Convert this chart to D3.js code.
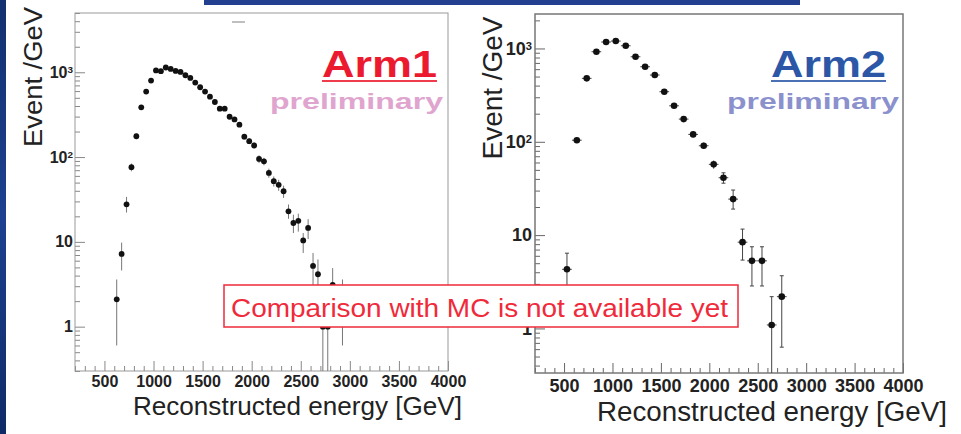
<!DOCTYPE html>
<html>
<head>
<meta charset="utf-8">
<script src="https://cdn.jsdelivr.net/npm/d3@7"></script>
<style>
  html, body { margin: 0; padding: 0; background: #fff; }
  svg { display: block; }
  text { font-family: "Liberation Sans", Arial, Helvetica, sans-serif; }
</style>
</head>
<body>
<svg id="chart" width="961" height="434"></svg>
<script>
// ---- Arm1 spectrum: bin centre [GeV], Event/GeV, error-bar low / high ----
const arm1Energy = [625, 675, 725, 775, 825, 875, 925, 975, 1025, 1075, 1125, 1175, 1225, 1275,
  1325, 1375, 1425, 1475, 1525, 1575, 1625, 1675, 1725, 1775, 1825, 1875, 1925, 1975, 2025,
  2075, 2125, 2175, 2225, 2275, 2325, 2375, 2425, 2475, 2525, 2575, 2625, 2675, 2725, 2775,
  2825, 2925];
const arm1Events = [2.1, 7.2, 27.7, 76, 176, 386, 592, 798, 1050, 1030, 1138, 1096, 1038, 1009,
  922, 857, 756, 666, 592, 516, 446, 372, 372, 299, 278, 241, 174, 154, 137,
  95, 89, 65, 52, 47, 39.5, 22.9, 16.7, 17.7, 10.4, 14.6, 5.2, 4.15, 1, 1,
  3.1, 2];
const arm1ErrLow = [0.6, 4.6, 22.2, 68, 163, 367, 568, 770, 1018, 998, 1104, 1063, 1006, 978,
  892, 828, 729, 641, 568, 494, 425, 353, 353, 282, 262, 226, 161, 142, 125,
  85, 80, 57, 45, 40, 33, 18.7, 12.7, 13.2, 7.4, 10.8, 3.1, 2.2, 0, 0,
  1.6, 0.6];
const arm1ErrHigh = [3.6, 9.8, 33.9, 84, 189, 405, 616, 826, 1082, 1062, 1172, 1129, 1070, 1040,
  952, 886, 783, 691, 616, 538, 467, 391, 391, 316, 294, 256, 187, 166, 149,
  105, 98, 73, 59, 54, 46, 27.6, 20.9, 21.5, 12.7, 18.5, 7.4, 6.2, 2, 2,
  4.9, 3.6];

// ---- Arm2 spectrum: bin centre [GeV], Event/GeV, error-bar low / high ----
const arm2Energy = [530, 632, 734, 834, 934, 1034, 1137, 1238, 1337, 1437, 1535, 1636,
  1735, 1833, 1942, 2045, 2146, 2246, 2343, 2440, 2544, 2644, 2748];
const arm2Events = [4.3, 104, 478, 922, 1172, 1200, 1069, 815, 637, 519, 344, 243,
  175, 120, 90.7, 57.3, 41.2, 24.3, 8.4, 5.3, 5.3, 1.09, 2.19];
const arm2ErrLow = [2.3, 97, 463, 901, 1148, 1176, 1046, 795, 619, 503, 331, 232,
  166, 112, 84, 51.5, 36, 19, 5.4, 2.85, 2.85, 0, 0.63];
const arm2ErrHigh = [6.4, 111, 493, 943, 1196, 1224, 1092, 835, 655, 535, 357, 254,
  184, 128, 98, 63, 46.5, 30.4, 11.6, 7.5, 7.5, 2.19, 3.67];
const arm2HalfWidth = 50; // horizontal error: half the 100 GeV bin

// ---- axis ticks ----
const energyTicks = [500, 1000, 1500, 2000, 2500, 3000, 3500, 4000];
const decadeTicks = [1, 10, 100, 1000];
const decadeBase = ["1", "10", "10", "10"];
const decadeExp = ["", "", "2", "3"];

const svg = d3.select("#chart");

// slide decoration: navy strip on the left edge and the title bar at the top
const defs = svg.append("defs");
const grad = defs.append("linearGradient").attr("id", "strip").attr("x1", 0).attr("x2", 0).attr("y1", 0).attr("y2", 1);
grad.append("stop").attr("offset", "0%").attr("stop-color", "#13306f");
grad.append("stop").attr("offset", "50%").attr("stop-color", "#1d4190");
grad.append("stop").attr("offset", "100%").attr("stop-color", "#0f2a66");
svg.append("rect").attr("x", 0).attr("y", 0).attr("width", 6).attr("height", 434).attr("fill", "url(#strip)");
svg.append("rect").attr("x", 204).attr("y", 0).attr("width", 596).attr("height", 5).attr("fill", "#22408f");

function drawPanel(p) {
  const x = d3.scaleLinear().domain([200, 4000]).range([p.left, p.right]);
  const y = d3.scaleLog().domain(p.yDomain).range([p.bottom, p.top]);
  const yc = v => y(Math.max(v, p.yDomain[0]));
  const g = svg.append("g");

  // minor x ticks every 100 GeV
  const xMinor = d3.range(200, 4001, 100).filter(v => v % 500 !== 0);
  g.append("g").attr("transform", `translate(0,${p.bottom})`)
    .call(d3.axisBottom(x).tickValues(xMinor).tickSize(-5).tickFormat(""))
    .call(s => s.select(".domain").remove())
    .call(s => s.selectAll("line").attr("stroke", p.tickColor));

  // major x ticks with labels
  g.append("g").attr("transform", `translate(0,${p.bottom})`)
    .call(d3.axisBottom(x).tickValues(energyTicks).tickSize(-10).tickPadding(p.xPad).tickFormat(d3.format("d")))
    .call(s => s.select(".domain").remove())
    .call(s => s.selectAll("line").attr("stroke", p.tickColor))
    .call(s => s.selectAll("text").attr("fill", "#222").attr("font-size", p.tickFont).attr("font-weight", "bold")
      .attr("font-family", '"Liberation Sans", Arial, sans-serif'));

  // minor y ticks (2..9 x 10^k)
  const yMinor = [];
  for (let k = -1; k <= 3; k++) for (let m = 2; m <= 9; m++) {
    const v = m * Math.pow(10, k);
    if (v >= p.yDomain[0] && v <= p.yDomain[1]) yMinor.push(v);
  }
  g.append("g").attr("transform", `translate(${p.left},0)`)
    .call(d3.axisLeft(y).tickValues(yMinor).tickSize(-5).tickFormat(""))
    .call(s => s.select(".domain").remove())
    .call(s => s.selectAll("line").attr("stroke", p.tickColor));

  // decade ticks with 10^n labels
  g.append("g").attr("transform", `translate(${p.left},0)`)
    .call(d3.axisLeft(y).tickValues(decadeTicks).tickSize(-10).tickPadding(p.yPad).tickFormat(""))
    .call(s => s.select(".domain").remove())
    .call(s => s.selectAll("line").attr("stroke", p.tickColor))
    .call(s => s.selectAll(".tick text").each(function (d, i) {
      const t = d3.select(this).attr("fill", "#222").attr("font-size", p.tickFont).attr("font-weight", "bold")
        .attr("font-family", '"Liberation Sans", Arial, sans-serif');
      t.append("tspan").text(decadeBase[i]);
      if (decadeExp[i]) t.append("tspan").attr("dy", "-0.45em").attr("font-size", p.tickFont * 0.62).text(decadeExp[i]);
    }));

  // frame
  g.append("rect").attr("x", p.left).attr("y", p.top)
    .attr("width", p.right - p.left).attr("height", p.bottom - p.top)
    .attr("fill", "none").attr("stroke", p.frameColor).attr("stroke-width", p.frameWidth);

  // data: error bars then markers
  const pts = p.energy.map((e, i) => ({ e, v: p.events[i], lo: p.low[i], hi: p.high[i] }));
  const eg = g.append("g").attr("stroke", p.errColor).attr("stroke-width", 1);
  eg.selectAll("line.v").data(pts).join("line").attr("class", "v")
    .attr("x1", d => x(d.e)).attr("x2", d => x(d.e))
    .attr("y1", d => yc(d.lo)).attr("y2", d => yc(d.hi));
  if (p.halfWidth) {
    eg.selectAll("line.h").data(pts).join("line").attr("class", "h")
      .attr("x1", d => x(d.e - p.halfWidth)).attr("x2", d => x(d.e + p.halfWidth))
      .attr("y1", d => yc(d.v)).attr("y2", d => yc(d.v));
  }
  if (p.caps) {
    const capped = pts.filter(d => yc(d.lo) - yc(d.hi) > 10);
    eg.selectAll("line.ct").data(capped.filter(d => d.hi > p.yDomain[0])).join("line").attr("class", "ct")
      .attr("x1", d => x(d.e) - 2).attr("x2", d => x(d.e) + 2)
      .attr("y1", d => yc(d.hi)).attr("y2", d => yc(d.hi));
    eg.selectAll("line.cb").data(capped.filter(d => d.lo > p.yDomain[0])).join("line").attr("class", "cb")
      .attr("x1", d => x(d.e) - 2).attr("x2", d => x(d.e) + 2)
      .attr("y1", d => yc(d.lo)).attr("y2", d => yc(d.lo));
  }
  g.append("g").selectAll("circle").data(pts).join("circle")
    .attr("cx", d => x(d.e)).attr("cy", d => yc(d.v)).attr("r", p.markerR).attr("fill", "#111");

  // axis titles
  g.append("text").attr("x", p.xTitle[0]).attr("y", p.xTitle[1])
    .attr("font-size", p.titleFont).attr("fill", "#222")
    .attr("textLength", p.xTitle[2]).attr("lengthAdjust", "spacingAndGlyphs")
    .text("Reconstructed energy [GeV]");
  g.append("text").attr("transform", `translate(${p.yTitle[0]},${p.yTitle[1]}) rotate(-90)`)
    .attr("text-anchor", "middle").attr("font-size", p.titleFont).attr("fill", "#222")
    .attr("textLength", p.yTitle[2]).attr("lengthAdjust", "spacingAndGlyphs")
    .text("Event /GeV");

  // arm tag and "preliminary"
  g.append("text").attr("x", p.tag[0]).attr("y", p.tag[1])
    .attr("font-size", 37).attr("font-weight", "bold").attr("fill", p.tagColor)
    .attr("font-family", '"DejaVu Sans", Verdana, sans-serif')
    .attr("textLength", p.tag[2]).attr("lengthAdjust", "spacingAndGlyphs").text(p.name);
  g.append("rect").attr("x", p.tag[0]).attr("y", p.tag[1] + 3).attr("width", p.tag[2]).attr("height", 2)
    .attr("fill", p.tagColor).attr("opacity", 0.85);
  g.append("text").attr("x", p.prelim[0]).attr("y", p.prelim[1])
    .attr("font-size", 22).attr("font-weight", "bold").attr("fill", p.prelimColor)
    .attr("font-family", '"DejaVu Sans", Verdana, sans-serif')
    .attr("textLength", p.prelim[2]).attr("lengthAdjust", "spacingAndGlyphs").text("preliminary");
}

drawPanel({
  name: "Arm1", left: 75, right: 448, top: 13, bottom: 371, yDomain: [0.3, 5000],
  energy: arm1Energy, events: arm1Events, low: arm1ErrLow, high: arm1ErrHigh, halfWidth: 0, caps: false,
  markerR: 2.9, errColor: "#777", tickColor: "#888", frameColor: "#999", frameWidth: 1,
  tickFont: 16, xPad: 5, yPad: 2, titleFont: 26,
  xTitle: [133, 415, 329], yTitle: [42, 77, 140],
  tag: [322, 77, 115], tagColor: "#ec1a2e",
  prelim: [270, 109, 173], prelimColor: "#e0a5cf"
});

drawPanel({
  name: "Arm2", left: 535, right: 903, top: 14, bottom: 373, yDomain: [0.333, 2340],
  energy: arm2Energy, events: arm2Events, low: arm2ErrLow, high: arm2ErrHigh, halfWidth: arm2HalfWidth, caps: true,
  markerR: 3.3, errColor: "#444", tickColor: "#666", frameColor: "#777", frameWidth: 1.5,
  tickFont: 18, xPad: 6, yPad: 3, titleFont: 27,
  xTitle: [597, 421, 350], yTitle: [502, 88, 143],
  tag: [771, 77, 115], tagColor: "#2c57a7",
  prelim: [727, 109, 172], prelimColor: "#8b91cd"
});

// small grey mark near the top of the Arm1 frame
svg.append("line").attr("x1", 232).attr("x2", 245).attr("y1", 22).attr("y2", 22)
  .attr("stroke", "#aaa").attr("stroke-width", 1.5);

// note box across both panels
svg.append("rect").attr("x", 224).attr("y", 285).attr("width", 514).attr("height", 42)
  .attr("fill", "#fff").attr("stroke", "#ee2a38").attr("stroke-width", 1.5);
svg.append("text").attr("x", 231).attr("y", 317).attr("font-size", 25).attr("fill", "#f02a3a")
  .attr("textLength", 497).attr("lengthAdjust", "spacingAndGlyphs")
  .text("Comparison with MC is not available yet");
</script>
</body>
</html>
